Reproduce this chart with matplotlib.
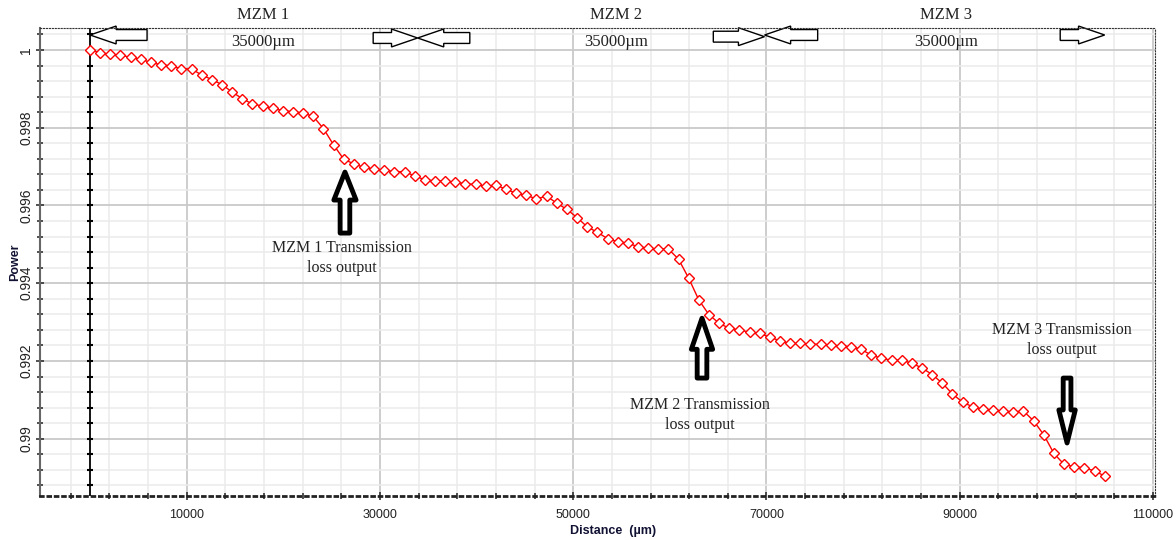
import numpy as np
import matplotlib
matplotlib.use("Agg")
import matplotlib.pyplot as plt
from matplotlib.patches import FancyArrow
from matplotlib.transforms import blended_transform_factory

# Data: 101 samples over the 3 x 35000 um modulators
distance = np.linspace(0, 105000, 101)
power = [
    1.00000, 0.99993, 0.99989, 0.99987, 0.99981, 0.99976, 0.99968, 0.99962, 0.99959, 0.99952,
    0.99951, 0.99936, 0.99924, 0.99911, 0.99892, 0.99875, 0.99861, 0.99856, 0.99850, 0.99844,
    0.99841, 0.99838, 0.99829, 0.99798, 0.99756, 0.99719, 0.99707, 0.99698, 0.99694, 0.99691,
    0.99687, 0.99687, 0.99676, 0.99666, 0.99663, 0.99663, 0.99660, 0.99656, 0.99654, 0.99650,
    0.99652, 0.99642, 0.99631, 0.99626, 0.99617, 0.99624, 0.99606, 0.99590, 0.99569, 0.99545,
    0.99531, 0.99515, 0.99507, 0.99503, 0.99494, 0.99490, 0.99488, 0.99488, 0.99462, 0.99413,
    0.99357, 0.99319, 0.99297, 0.99284, 0.99280, 0.99274, 0.99271, 0.99261, 0.99252, 0.99245,
    0.99245, 0.99243, 0.99243, 0.99241, 0.99238, 0.99237, 0.99230, 0.99215, 0.99207, 0.99202,
    0.99202, 0.99194, 0.99182, 0.99165, 0.99143, 0.99115, 0.99094, 0.99082, 0.99076, 0.99074,
    0.99071, 0.99069, 0.99071, 0.99046, 0.99010, 0.98962, 0.98934, 0.98928, 0.98925, 0.98917,
    0.98904,
]

x_ticks = [10000, 30000, 50000, 70000, 90000, 110000]
y_ticks = [0.99, 0.992, 0.994, 0.996, 0.998, 1.0]
y_labels = ["0.99", "0.992", "0.994", "0.996", "0.998", "1"]

sections = ["MZM 1", "MZM 2", "MZM 3"]
section_len = ["35000µm", "35000µm", "35000µm"]
section_x = [17900, 54400, 88600]

notes = ["MZM 1 Transmission\nloss output", "MZM 2 Transmission\nloss output",
         "MZM 3 Transmission\nloss output"]
notes_xy = [(26100, 0.99465), (63100, 0.99061), (100600, 0.99254)]

# figure
fig = plt.figure(figsize=(11.76, 5.4), dpi=100)
ax = fig.add_axes([40 / 1176, 44 / 540, 1115 / 1176, 468 / 540])

ax.set_xlim(-5180, 110210)
ax.set_ylim(0.988526, 1.000566)

ax.set_xticks(x_ticks)
ax.set_xticklabels([str(v) for v in x_ticks], fontsize=9, family="Liberation Sans")
ax.set_xticks(np.arange(-2000, 110001, 4000), minor=True)
ax.set_yticks(y_ticks)
ax.set_yticklabels(y_labels, fontsize=10, family="Liberation Sans", rotation=90, va="center")
y_minor = np.arange(0.9888, 1.00041, 0.0004)
ax.set_yticks(y_minor, minor=True)

ax.grid(which="major", color="#c9c9c9", lw=1.3)
ax.grid(which="minor", color="#ebebeb", lw=1.1)
ax.set_axisbelow(True)

ax.tick_params(axis="both", which="major", direction="inout", length=6, width=1.2,
               color="#333333", labelcolor="#222222")
ax.tick_params(axis="both", which="minor", direction="inout", length=4, width=1.2,
               color="#333333")
ax.tick_params(axis="y", pad=2)
ax.tick_params(axis="x", pad=6)

for side in ["top", "right"]:
    ax.spines[side].set_linestyle(":")
    ax.spines[side].set_color("#333333")
ax.spines["bottom"].set_linestyle(":")
ax.spines["bottom"].set_linewidth(2)
ax.spines["bottom"].set_color("#222222")
ax.spines["left"].set_color("#666666")
ax.spines["left"].set_linewidth(1.5)

# black line at distance 0 with small ticks
ax.axvline(0, color="black", lw=1.3)
ax.plot(np.zeros(len(y_minor)), y_minor, ls="none", marker="_", ms=5, mew=1.5, color="black")

# curve
ax.plot(distance, power, color="red", lw=1, marker="D", ms=5, mfc="white", mec="red", mew=1)

# section headers
trans = blended_transform_factory(ax.transData, ax.transAxes)
for name, ln, xs in zip(sections, section_len, section_x):
    ax.text(xs, 1.028, name, transform=trans, ha="center", va="center", fontsize=12,
            family="Liberation Serif", color="#222222")
    ax.text(xs, 0.970, ln, transform=trans, ha="center", va="center", fontsize=12,
            family="Liberation Serif", color="#222222")

# outline arrows at the top marking the section limits
top_arrows = [(5900, 0, 1.000386), (29300, 33900, 1.000309), (39300, 33900, 1.000309),
              (64500, 69800, 1.000343), (75300, 69800, 1.000386), (100400, 105000, 1.000386)]
for x0, x1, yy in top_arrows:
    ax.add_patch(FancyArrow(x0, yy, x1 - x0, 0, width=2.8e-4, head_width=4.6e-4,
                            head_length=2700, length_includes_head=True,
                            fc="white", ec="black", lw=1, clip_on=False))

# big arrows pointing at the loss outputs
big_arrows = [(26380, 0.99529, 0.99686, 1000, 2300, 7.2e-4),
              (63330, 0.99156, 0.99310, 1000, 2200, 8.0e-4),
              (101110, 0.99156, 0.98989, 800, 1700, 8.5e-4)]
for xa, y0, y1, w, hw, hl in big_arrows:
    ax.add_patch(FancyArrow(xa, y0, 0, y1 - y0, width=w, head_width=hw, head_length=hl,
                            length_includes_head=True, fc="white", ec="black", lw=3.5,
                            joinstyle="round"))

for txt, (tx, ty) in zip(notes, notes_xy):
    ax.text(tx, ty, txt, ha="center", va="center", fontsize=11.5, linespacing=1.35,
            family="Liberation Serif", color="#222222")

fig.text(613 / 1176, 1 - 531 / 540, "Distance  (µm)", ha="center", va="center",
         fontsize=9, fontweight="bold", family="Liberation Sans", color="#111133")
fig.text(15 / 1176, 1 - 262 / 540, "Power", ha="center", va="center", rotation=90,
         fontsize=9, fontweight="bold", family="Liberation Sans", color="#111133")

fig.savefig("out.png", dpi=100)
